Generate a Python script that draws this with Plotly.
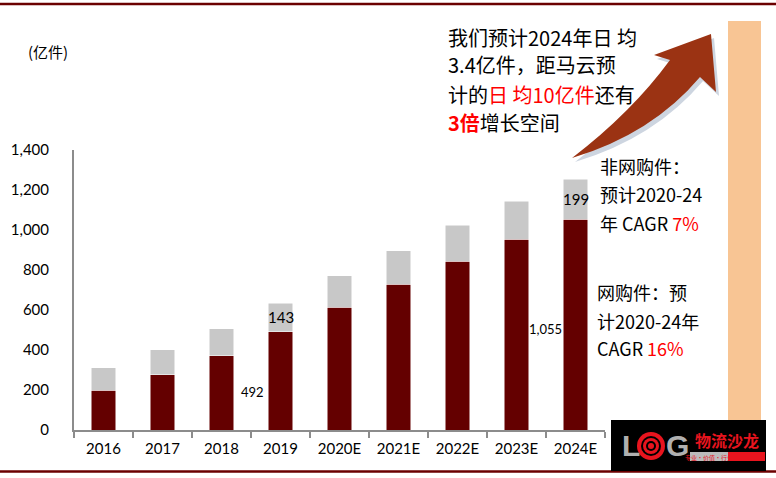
import plotly.graph_objects as go

years = ['2016', '2017', '2018', '2019', '2020E', '2021E', '2022E', '2023E', '2024E']
online = [200, 276, 372, 492, 613, 730, 844, 954, 1055]
offline = [112, 125, 134, 143, 159, 167, 179, 191, 199]
yticks = [0, 200, 400, 600, 800, 1000, 1200, 1400]

W, H = 776, 478
L, R, T, B = 74, 605, 150, 430
CJK = "'Noto Sans CJK SC', sans-serif"
NUM = "Lato, 'Noto Sans CJK SC', sans-serif"
RED = '#FF0000'


def px(x):
    return (x - L) / (R - L)


def py(y):
    return (B - y) / (B - T)


def pix_path(s):
    # pixel path -> paper path
    out, nums = [], []
    for tok in s.split():
        if tok.isalpha():
            out.append(tok)
        else:
            nums.append(float(tok))
            if len(nums) == 2:
                out.append(f"{px(nums[0]):.4f},{py(nums[1]):.4f}")
                nums = []
    return ' '.join(out)


fig = go.Figure()
fig.add_trace(go.Bar(x=years, y=online, marker=dict(color='#640000', line=dict(color='white', width=0.5)),
                     name='网购件'))
fig.add_trace(go.Bar(x=years, y=offline, marker=dict(color='#C8C8C8', line=dict(color='white', width=0.5)),
                     name='非网购件'))

shapes = []
# top / bottom rule
shapes.append(dict(type='line', xref='paper', yref='paper', x0=px(0), x1=px(W), y0=py(4), y1=py(4),
                   line=dict(color='#6B0000', width=2.5)))
shapes.append(dict(type='line', xref='paper', yref='paper', x0=px(0), x1=px(W), y0=py(471.5), y1=py(471.5),
                   line=dict(color='#6B0000', width=2.5)))
# orange bar on the right
shapes.append(dict(type='rect', xref='paper', yref='paper', x0=px(728), x1=px(761), y0=py(21), y1=py(420),
                   fillcolor='#F8C594', line=dict(width=0), layer='below'))
# curved arrow with shadow
arrow = "M 572 158 Q 632 112 670 60 L 654 55 L 711 34 L 716 92 L 700 77 Q 652 134 572 158 Z"
shadow = "M 575 162 Q 635 116 673 64 L 657 59 L 714 38 L 719 96 L 703 81 Q 655 138 575 162 Z"
shapes.append(dict(type='path', xref='paper', yref='paper', path=pix_path(shadow),
                   fillcolor='#CDD5E0', line=dict(width=0)))
shapes.append(dict(type='path', xref='paper', yref='paper', path=pix_path(arrow),
                   fillcolor='#9B3313', line=dict(width=0)))
# logo box
shapes.append(dict(type='rect', xref='paper', yref='paper', x0=px(611), x1=px(766), y0=py(420), y1=py(471),
                   fillcolor='black', line=dict(width=0)))
for r, c in [(14, '#E8141E'), (10, 'black'), (8, '#E8141E'), (5, 'black'), (3, '#E8141E')]:
    shapes.append(dict(type='circle', xref='paper', yref='paper', x0=px(651 - r), x1=px(651 + r),
                       y0=py(446 - r), y1=py(446 + r), fillcolor=c, line=dict(width=0)))
shapes.append(dict(type='rect', xref='paper', yref='paper', x0=px(690), x1=px(728), y0=py(452), y1=py(461),
                   fillcolor='#BBBBBB', line=dict(width=0)))
shapes.append(dict(type='rect', xref='paper', yref='paper', x0=px(728), x1=px(765), y0=py(452), y1=py(461),
                   fillcolor='#E8141E', line=dict(width=0)))

ann = []


def txt(x, y, s, size, color='black', anchor='left', font=CJK):
    ann.append(dict(xref='paper', yref='paper', x=px(x), y=py(y), text=s, showarrow=False,
                    xanchor=anchor, yanchor='middle', font=dict(family=font, size=size, color=color)))


txt(26, 52, '(亿件)', 15)

txt(446, 37, '我们预计2024年日 均', 20)
txt(446, 65, '3.4亿件，距马云预', 20)
txt(446, 94, f'计的<span style="color:{RED}">日 均10亿件</span>还有', 20)
txt(446, 123, f'<b><span style="color:{RED}">3倍</span></b>增长空间', 20)

txt(598, 166, '非网购件：', 18)
txt(598, 194, '预计2020-24', 18)
txt(598, 223, f'年 CAGR <span style="color:{RED}">7%</span>', 18)
txt(595, 292, '网购件：预', 18)
txt(595, 321, '计2020-24年', 18)
txt(595, 348, f'CAGR <span style="color:{RED}">16%</span>', 18)

# logo text
txt(620, 445, '<b>L</b>', 30, '#B0B0B0', font='Arial')
txt(664, 445, '<b>G</b>', 30, '#B0B0B0', font='Arial')
txt(727, 440, '<b>物流沙龙</b>', 16, '#E8141E', anchor='center')
txt(709, 457, '专业·价值·行业', 6, '#E8141E', anchor='center')

# data labels (x as category index)
i19, i24 = years.index('2019'), years.index('2024E')
ann.append(dict(x=i19, y=190, text=f'{online[i19]}', showarrow=False, xshift=-28,
                font=dict(family=NUM, size=13, color='black')))
ann.append(dict(x=i19, y=online[i19] + offline[i19] * 0.5, text=f'{offline[i19]}', showarrow=False,
                font=dict(family=NUM, size=15, color='black')))
ann.append(dict(x=i24, y=506, text=f'{online[i24]:,}', showarrow=False, xshift=-30,
                font=dict(family=NUM, size=13, color='black')))
ann.append(dict(x=i24, y=online[i24] + offline[i24] * 0.5, text=f'{offline[i24]}', showarrow=False,
                font=dict(family=NUM, size=15, color='black')))

fig.update_layout(
    width=W, height=H,
    margin=dict(l=L, r=W - R, t=T, b=H - B),
    barmode='stack', bargap=0.59,
    showlegend=False,
    plot_bgcolor='white', paper_bgcolor='white',
    shapes=shapes, annotations=ann,
    font=dict(family=NUM, size=15, color='black'),
)
fig.update_xaxes(type='category', range=[-0.5, len(years) - 0.5], automargin=False, tickangle=0,
                 showline=True, linecolor='#8C8C8C', linewidth=2,
                 ticks='outside', tickson='boundaries', ticklen=6, tickcolor='#8C8C8C', tickwidth=2,
                 showgrid=False, tickfont=dict(family=NUM, size=15), ticklabelstandoff=4)
fig.update_yaxes(range=[0, 1400], tickvals=yticks, tickformat=',', showline=True, linecolor='#8C8C8C',
                 linewidth=2, ticks='', showgrid=False, zeroline=False, automargin=False,
                 tickfont=dict(family=NUM, size=15), ticklabelstandoff=20)

# page has an 8px body margin by default; drop it so the figure sits at the window corner
fig.write_html("out.html", config={'displayModeBar': False},
               post_script="document.body.style.margin='0';")
